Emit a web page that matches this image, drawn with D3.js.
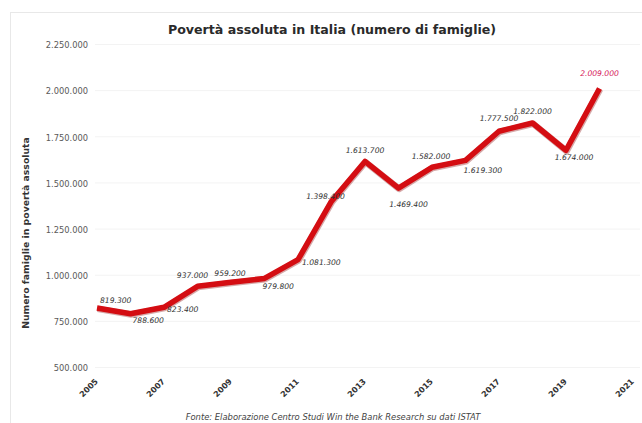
<!DOCTYPE html>
<html>
<head>
<meta charset="utf-8">
<script src="https://cdn.jsdelivr.net/npm/d3@7"></script>
<style>
  html, body { margin: 0; padding: 0; background: #fff; }
  svg { display: block; }
</style>
</head>
<body>
<svg id="chart" width="642" height="423"></svg>
<script>
// Absolute poverty in Italy: number of households per year
const years = [2005, 2006, 2007, 2008, 2009, 2010, 2011, 2012, 2013, 2014, 2015, 2016, 2017, 2018, 2019, 2020];
const families = [819300, 788600, 823400, 937000, 959200, 979800, 1081300, 1398400, 1613700, 1469400, 1582000, 1619300, 1777500, 1822000, 1674000, 2009000];
const yTicks = [500000, 750000, 1000000, 1250000, 1500000, 1750000, 2000000, 2250000];
const xTicks = [2005, 2007, 2009, 2011, 2013, 2015, 2017, 2019, 2021];

const title = "Povertà assoluta in Italia (numero di famiglie)";
const yTitle = "Numero famiglie in povertà assoluta";
const source = "Fonte: Elaborazione Centro Studi Win the Bank Research su dati ISTAT";

const svg = d3.select("#chart");
const font = "'DejaVu Sans', Verdana, sans-serif";

// Italian thousands separator
const fmt = d3.formatLocale({ decimal: ",", thousands: ".", grouping: [3], currency: ["€", ""] }).format(",d");

const x = d3.scaleLinear().domain([2005, 2021]).range([97, 633]);
const y = d3.scaleLinear().domain([500000, 2250000]).range([367, 44]);

// light frame
svg.append("rect")
  .attr("x", 10.5).attr("y", 12.5).attr("width", 640).attr("height", 420)
  .attr("fill", "none").attr("stroke", "#e8e8e8");

// title
svg.append("text")
  .attr("x", 332).attr("y", 34)
  .attr("text-anchor", "middle")
  .attr("font-family", font).attr("font-size", 12.6).attr("font-weight", "bold")
  .attr("fill", "#2a2a2a")
  .text(title);

// faint horizontal grid
svg.append("g").selectAll("line").data(yTicks).join("line")
  .attr("x1", 95).attr("x2", 640)
  .attr("y1", d => y(d) + 0.5).attr("y2", d => y(d) + 0.5)
  .attr("stroke", "#f3f3f3");

// y axis (labels only)
const yAxis = svg.append("g")
  .attr("transform", "translate(92,0)")
  .call(d3.axisLeft(y).tickValues(yTicks).tickFormat(fmt).tickSize(0).tickPadding(4));
yAxis.select(".domain").remove();
yAxis.selectAll("text")
  .attr("font-family", font).attr("font-size", 8.3).attr("fill", "#5a5a5a")
  .attr("dy", "0.45em");

// x axis (rotated labels only)
const xAxis = svg.append("g")
  .attr("transform", "translate(0,370)")
  .call(d3.axisBottom(x).tickValues(xTicks).tickFormat(d3.format("d")).tickSize(0));
xAxis.select(".domain").remove();
xAxis.selectAll("text")
  .attr("font-family", font).attr("font-size", 8).attr("font-weight", "bold").attr("fill", "#333")
  .attr("text-anchor", "end")
  .attr("dy", null).attr("y", 0)
  .attr("transform", "translate(1,12) rotate(-45)");

// y axis title
svg.append("text")
  .attr("transform", "translate(29,233) rotate(-90)")
  .attr("text-anchor", "middle")
  .attr("font-family", font).attr("font-size", 9.3).attr("font-weight", "bold")
  .attr("fill", "#333")
  .text(yTitle);

// source note
svg.append("text")
  .attr("x", 333).attr("y", 420)
  .attr("text-anchor", "middle")
  .attr("font-family", font).attr("font-size", 8.4).attr("font-style", "italic")
  .attr("fill", "#444")
  .text(source);

// series line
const pts = years.map((yr, i) => ({ year: yr, value: families[i] }));
const line = d3.line().x(d => x(d.year)).y(d => y(d.value));

svg.append("path")
  .datum(pts)
  .attr("d", line)
  .attr("fill", "none")
  .attr("stroke", "#8a0a0a").attr("stroke-width", 6.5)
  .attr("stroke-linejoin", "round").attr("opacity", 0.35)
  .attr("transform", "translate(0.6,0.8)");

svg.append("path")
  .datum(pts)
  .attr("d", line)
  .attr("fill", "none")
  .attr("stroke", "#d40d12").attr("stroke-width", 5.5)
  .attr("stroke-linejoin", "round").attr("stroke-linecap", "butt");

// value labels: offset from each point (dx, dy) and anchor
const labelPlace = [
  [3, -5, "start"], [2, 9, "start"], [3, 5, "start"], [-5, -8, "middle"],
  [-1, -6, "middle"], [-2, 11, "start"], [4, 5, "start"], [-6, -2, "middle"],
  [0, -8, "middle"], [10, 19, "middle"], [-1, -8, "middle"], [-2, 13, "start"],
  [0, -10, "middle"], [0, -9, "middle"], [8, 10, "middle"], [0, -12, "middle"]
];

svg.append("g").selectAll("text").data(pts).join("text")
  .attr("x", (d, i) => x(d.year) + labelPlace[i][0])
  .attr("y", (d, i) => y(d.value) + labelPlace[i][1])
  .attr("text-anchor", (d, i) => labelPlace[i][2])
  .attr("font-family", font).attr("font-size", 7.6).attr("font-style", "italic")
  .attr("fill", (d, i) => i === pts.length - 1 ? "#d6185a" : "#333")
  .text(d => fmt(d.value));
</script>
</body>
</html>
